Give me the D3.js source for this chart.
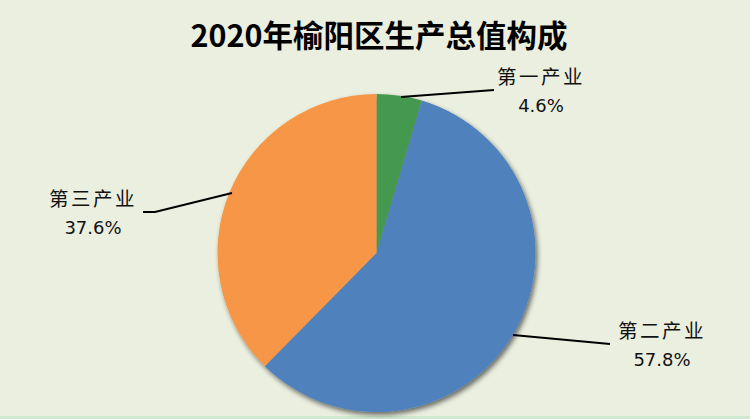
<!DOCTYPE html>
<html><head><meta charset="utf-8">
<script src="https://cdn.jsdelivr.net/npm/d3@7"></script>
<style>html,body{margin:0;padding:0;background:#ebefdf;}svg{display:block;}</style>
</head><body>
<svg id="c" width="750" height="419"></svg>
<script>
const title = "2020年榆阳区生产总值构成";
const categories = ["第一产业", "第二产业", "第三产业"];
const values = [4.6, 57.8, 37.6];
const colors = ["#44994f", "#4f81bd", "#f79646"];

const W = 750, H = 419;
const svg = d3.select("#c");
svg.append("rect").attr("width", W).attr("height", H).attr("fill", "#ebefdf");
svg.append("rect").attr("x", 0).attr("y", 416).attr("width", W).attr("height", 3).attr("fill", "#cfe8d0");

const defs = svg.append("defs");
const f = defs.append("filter").attr("id", "sh").attr("x", "-20%").attr("y", "-20%").attr("width", "140%").attr("height", "140%");
f.append("feGaussianBlur").attr("in", "SourceAlpha").attr("stdDeviation", 2.5);
f.append("feOffset").attr("dx", 2).attr("dy", 3).attr("result", "b");
f.append("feComponentTransfer").append("feFuncA").attr("type", "linear").attr("slope", 0.55);
const m = f.append("feMerge");
m.append("feMergeNode");
m.append("feMergeNode").attr("in", "SourceGraphic");

svg.append("text").attr("x", 379).attr("y", 47).attr("text-anchor", "middle")
  .attr("font-family", "'Noto Sans CJK SC', sans-serif").attr("font-weight", "bold")
  .attr("font-size", 30.5).attr("fill", "#000").text(title);

const cx = 376.5, cy = 253, r = 159;
const pie = d3.pie().sort(null).value(d => d)(values);
const arc = d3.arc().innerRadius(0).outerRadius(r);
const g = svg.append("g").attr("transform", `translate(${cx},${cy})`);
g.append("g").attr("filter", "url(#sh)").selectAll("path").data(pie).join("path")
  .attr("d", arc).attr("fill", (d, i) => colors[i]);

const labelPos = [
  {tx: 541, ty: 84, line: [[401, 97], [494, 90]]},
  {tx: 662, ty: 338, line: [[513, 335], [610, 344]]},
  {tx: 93, ty: 206, line: [[232, 193], [155, 212], [143, 212]]}
];
pie.forEach((d, i) => {
  const p = labelPos[i];
  svg.append("path").attr("d", d3.line()(p.line)).attr("fill", "none")
    .attr("stroke", "#000").attr("stroke-width", 2);
  const t = svg.append("text").attr("x", p.tx).attr("y", p.ty).attr("text-anchor", "middle")
    .attr("font-family", "'Noto Sans CJK SC', sans-serif").attr("fill", "#111");
  t.append("tspan").attr("x", p.tx).attr("font-size", 19.5).attr("letter-spacing", 2.5).text(categories[i]);
  t.append("tspan").attr("x", p.tx).attr("dy", 28).attr("font-size", 18)
    .attr("font-family", "'DejaVu Sans', sans-serif").text(d3.format(".1f")(values[i]) + "%");
});
</script>
</body></html>
